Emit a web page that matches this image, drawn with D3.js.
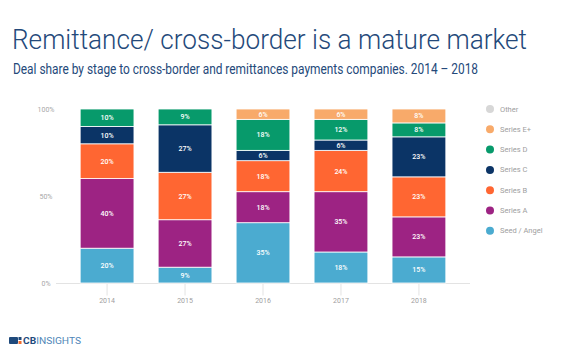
<!DOCTYPE html>
<html>
<head>
<meta charset="utf-8">
<script src="https://cdn.jsdelivr.net/npm/d3@7/dist/d3.min.js"></script>
<style>
  html, body { margin: 0; padding: 0; background: #fff; }
  svg { display: block; font-family: Roboto, "Noto Sans", sans-serif; }
</style>
</head>
<body>
<svg id="chart" width="572" height="364"></svg>
<script>
const years = ["2014", "2015", "2016", "2017", "2018"];
const stages = ["Seed / Angel", "Series A", "Series B", "Series C", "Series D", "Series E+", "Other"];
const seedAngel = [20, 9, 35, 18, 15];
const seriesA   = [40, 27, 18, 35, 23];
const seriesB   = [20, 27, 18, 24, 23];
const seriesC   = [10, 27, 6, 6, 23];
const seriesD   = [10, 9, 18, 12, 8];
const seriesE   = [0, 0, 6, 6, 8];
const other     = [0, 0, 0, 0, 0];
const yTicks = [0, 0.5, 1];
const colors = ["#4BABD0", "#9D2383", "#FF6632", "#0B3466", "#079A6B", "#F8AA6A", "#D7D7D7"];

const seriesArrays = [seedAngel, seriesA, seriesB, seriesC, seriesD, seriesE, other];
const rows = years.map((y, i) => {
  const r = { year: y };
  stages.forEach((s, k) => r[s] = seriesArrays[k][i]);
  return r;
});

const svg = d3.select("#chart");

// Title and subtitle
svg.append("text")
  .attr("x", 12).attr("y", 49)
  .attr("font-size", 27).attr("font-weight", 300)
  .attr("fill", "#24497A")
  .attr("textLength", 515).attr("lengthAdjust", "spacingAndGlyphs")
  .text("Remittance/ cross-border is a mature market");
svg.append("text")
  .attr("x", 13).attr("y", 73.5)
  .attr("font-size", 14).attr("font-weight", 400)
  .attr("fill", "#24497A")
  .attr("textLength", 465).attr("lengthAdjust", "spacingAndGlyphs")
  .text("Deal share by stage to cross-border and remittances payments companies. 2014 \u2013 2018");

const x = d3.scaleBand().domain(years).range([56, 470]).paddingInner(0.31).paddingOuter(0.31);
const y = d3.scaleLinear().domain([0, 1]).range([283, 109]);

const stack = d3.stack().keys(stages).offset(d3.stackOffsetExpand);
const series = stack(rows);

// axis baseline & ticks
const xAxis = svg.append("g").attr("transform", "translate(0,283.5)");
xAxis.append("line").attr("x1", 56).attr("x2", 470).attr("stroke", "#E3E3E3").attr("stroke-width", 1);
xAxis.selectAll("line.tick").data(years).enter().append("line")
  .attr("class", "tick")
  .attr("x1", d => x(d) + x.bandwidth() / 2).attr("x2", d => x(d) + x.bandwidth() / 2)
  .attr("y1", 0).attr("y2", 12).attr("stroke", "#E3E3E3");
xAxis.selectAll("text").data(years).enter().append("text")
  .attr("x", d => x(d) + x.bandwidth() / 2).attr("y", 19.5)
  .attr("text-anchor", "middle").attr("font-size", 7).attr("fill", "#A0A0A0")
  .text(d => d);

svg.append("g").selectAll("text").data(yTicks).enter().append("text")
  .attr("x", 46).attr("y", d => y(d) + 2.5)
  .attr("text-anchor", "middle").attr("font-size", 7).attr("fill", "#A8A8A8")
  .text(d3.format(".0%"));

// bars
const layers = svg.append("g").selectAll("g").data(series).enter().append("g")
  .attr("fill", (d, i) => colors[i]);
layers.selectAll("rect").data(d => d.map(p => Object.assign(p, { key: d.key }))).enter().append("rect")
  .filter(d => d[1] - d[0] > 0)
  .attr("x", d => x(d.data.year))
  .attr("width", x.bandwidth())
  .attr("y", d => y(d[1]))
  .attr("height", d => y(d[0]) - y(d[1]))
  .attr("stroke", "#fff").attr("stroke-width", 0.8);

// labels
svg.append("g").selectAll("g").data(series).enter().append("g")
  .selectAll("text").data(d => d.filter(p => p[1] - p[0] > 0)).enter().append("text")
  .attr("x", d => x(d.data.year) + x.bandwidth() / 2)
  .attr("y", d => (y(d[0]) + y(d[1])) / 2 + 2.5)
  .attr("text-anchor", "middle").attr("font-size", 7).attr("font-weight", 500)
  .attr("fill", "#fff")
  .text(d => d.data[d.key] + "%");

// legend
const legend = svg.append("g").selectAll("g").data(stages.slice().reverse()).enter().append("g")
  .attr("transform", (d, i) => `translate(490,${109 + i * 20.3})`);
legend.append("circle").attr("r", 4).attr("fill", d => colors[stages.indexOf(d)]);
legend.append("text").attr("x", 10).attr("y", 2.5)
  .attr("font-size", 7.5).attr("fill", "#9E9E9E").text(d => d);

// logo
const logo = svg.append("g").attr("transform", "translate(9,337)");
logo.append("rect").attr("x", 0).attr("y", 0).attr("width", 9).attr("height", 7).attr("rx", 1).attr("fill", "#1F4A7C");
logo.append("rect").attr("x", 9.5).attr("y", 0).attr("width", 3).attr("height", 3).attr("fill", "#1F4A7C");
logo.append("rect").attr("x", 9.5).attr("y", 4).attr("width", 3).attr("height", 3).attr("fill", "#F26B2A");
const lt = logo.append("text").attr("x", 14).attr("y", 7).attr("font-size", 9.8).attr("font-weight", 700)
  .attr("textLength", 58).attr("lengthAdjust", "spacingAndGlyphs");
lt.append("tspan").attr("fill", "#1F4A7C").text("CB");
lt.append("tspan").attr("fill", "#4F86B8").attr("font-weight", 400).text("INSIGHTS");
</script>
</body>
</html>
